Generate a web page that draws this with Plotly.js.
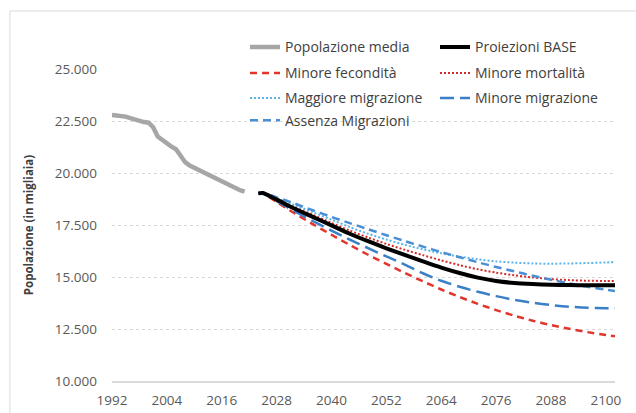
<!DOCTYPE html>
<html>
<head>
<meta charset="utf-8">
<script src="https://cdn.plot.ly/plotly-3.0.1.min.js"></script>
<style>
  html, body { margin: 0; padding: 0; background: #ffffff; }
  #chart { width: 636px; height: 413px; }
</style>
</head>
<body>
<div id="chart"></div>
<script>
// Historical average population (thousands)
const histYears = [1992,1993,1994,1995,1996,1997,1998,1999,2000,2001,2002,2003,2004,2005,2006,2007,2008,2009,2010,2011,2012,2013,2014,2015,2016,2017,2018,2019,2020,2021];
const popMedia  = [22790,22770,22740,22710,22640,22560,22480,22450,22420,22200,21750,21580,21420,21270,21140,20830,20520,20360,20250,20160,20060,19950,19830,19720,19600,19470,19350,19250,19170,19100];

// Projection years
const projYears = [2024,2025,2028,2032,2036,2040,2044,2048,2052,2056,2060,2064,2068,2072,2076,2080,2084,2088,2092,2096,2100,2102];

const base        = [19020,19040,18720,18280,17880,17480,17080,16720,16380,16060,15750,15450,15190,14970,14810,14710,14660,14630,14610,14600,14600,14600];
const minFecond   = [19020,19020,18600,18050,17530,17030,16540,16070,15630,15200,14790,14400,14040,13710,13410,13140,12900,12690,12510,12350,12210,12150];
const minMortal   = [19020,19040,18740,18350,17980,17600,17230,16900,16590,16310,16050,15800,15570,15370,15210,15080,14980,14900,14850,14820,14810,14810];
const maggMigr    = [19020,19040,18780,18450,18110,17760,17400,17080,16800,16550,16330,16140,15980,15850,15750,15690,15650,15640,15650,15670,15700,15720];
const minMigr     = [19020,19030,18650,18150,17680,17230,16800,16390,15990,15600,15180,14820,14530,14290,14080,13900,13760,13650,13570,13520,13500,13500];
const assenzaMigr = [19020,19050,18830,18530,18200,17890,17590,17300,17010,16730,16460,16200,15950,15710,15480,15270,15060,14870,14690,14530,14390,14330];

const xTicks = [1992,2004,2016,2028,2040,2052,2064,2076,2088,2100];
const yTicks = [10000,12500,15000,17500,20000,22500,25000];

const FONT = '"Open Sans", "Liberation Sans", sans-serif';

function proj(name, y, color, width, dash, leg) {
  return { x: projYears, y: y, name: name, type: 'scatter', mode: 'lines', legend: leg,
           line: { color: color, width: width, dash: dash, shape: 'spline', smoothing: 0.8 } };
}

const tPop   = { x: histYears, y: popMedia, name: 'Popolazione media', type: 'scatter', mode: 'lines',
                 legend: 'legend', line: { color: '#a6a6a6', width: 4.5 } };
const tBase  = proj('Proiezioni BASE', base, '#000000', 4, 'solid', 'legend2');
const tFec   = proj('Minore fecondità', minFecond, '#e2352b', 2.5, '7px,5px', 'legend3');
const tMort  = proj('Minore mortalità', minMortal, '#d42a2a', 2, '2px,2px', 'legend4');
const tMagg  = proj('Maggiore migrazione', maggMigr, '#5ab4e8', 2, '2px,2px', 'legend5');
const tMinM  = proj('Minore migrazione', minMigr, '#3b7fc6', 2.5, '14px,6px', 'legend6');
const tAss   = proj('Assenza Migrazioni', assenzaMigr, '#4a8fd6', 2.5, '8px,5px', 'legend7');

const data = [tPop, tFec, tMort, tMagg, tMinM, tAss, tBase];

// legend placement: 2 columns x 4 rows (pixel centres converted to paper)
const plotL = 112, plotW = 503, plotB = 381, plotH = 312;
const colX = [245, 435];
const rowY = [47.3, 73.3, 98.3, 120.7];
function leg(col, row) {
  return {
    x: (colX[col] - plotL) / plotW, xanchor: 'left',
    y: (plotB - rowY[row]) / plotH, yanchor: 'middle',
    font: { family: FONT, size: 14, color: '#404040' },
    bgcolor: 'rgba(0,0,0,0)', itemwidth: 30
  };
}

const layout = {
  width: 636, height: 413,
  paper_bgcolor: '#ffffff', plot_bgcolor: '#ffffff',
  margin: { l: plotL, r: 21, t: 69, b: 32, pad: 0 },
  separators: ',.',
  font: { family: FONT, color: '#595959', size: 13.5 },
  showlegend: true,
  legend: leg(0, 0), legend2: leg(1, 0),
  legend3: leg(0, 1), legend4: leg(1, 1),
  legend5: leg(0, 2), legend6: leg(1, 2),
  legend7: leg(0, 3),
  xaxis: {
    range: [1992, 2102], tickmode: 'array', tickvals: xTicks, ticktext: xTicks.map(String),
    showgrid: false, zeroline: false, showline: true, linecolor: '#d9d9d9', linewidth: 1.5,
    ticks: '', ticklabelstandoff: 6,
    tickfont: { family: FONT, size: 13.5, color: '#595959' }
  },
  yaxis: {
    range: [10000, 25000], tickmode: 'array', tickvals: yTicks, tickformat: ',.0f',
    showgrid: true, gridcolor: '#d9d9d9', gridwidth: 1, griddash: 'dot',
    zeroline: false, showline: false, ticks: '', ticklabelstandoff: 14,
    tickfont: { family: FONT, size: 13.5, color: '#595959' },
    title: { text: 'Popolazione (in migliaia)', standoff: 18,
             font: { family: FONT, size: 11.5, color: '#404040', weight: 'bold' } }
  },
  shapes: [
    { type: 'line', xref: 'paper', yref: 'paper', x0: -0.203, x1: 1.1, y0: 1.186, y1: 1.186,
      line: { color: '#d9d9d9', width: 1 } },
    { type: 'line', xref: 'paper', yref: 'paper', x0: -0.203, x1: -0.203, y0: 1.186, y1: -0.2,
      line: { color: '#d9d9d9', width: 1 } }
  ]
};

Plotly.newPlot('chart', data, layout, { displayModeBar: false, staticPlot: true });
</script>
</body>
</html>
